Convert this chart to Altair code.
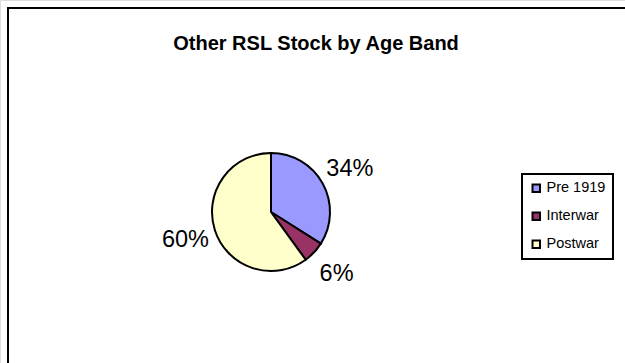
import altair as alt
import pandas as pd

# Age band shares of other RSL stock (percent)
bands = ["Pre 1919", "Interwar", "Postwar"]
shares = [34, 6, 60]
colors = ["#9999FF", "#993366", "#FFFFCC"]
title_text = ["Other RSL Stock by Age Band"]

df = pd.DataFrame({"band": bands, "share": shares, "idx": list(range(len(bands)))})

W, H = 625, 363
CX, CY = 271, 212

base = alt.Chart(df).encode(
    theta=alt.Theta("share:Q", stack=True),
    order=alt.Order("idx:Q"),
    x=alt.value(CX),
    y=alt.value(CY),
)

pie = base.mark_arc(radius=59, stroke="#000000", strokeWidth=2).encode(
    color=alt.Color(
        "band:N",
        scale=alt.Scale(domain=bands, range=colors),
        legend=alt.Legend(
            title=None,
            orient="none",
            legendX=522,
            legendY=174,
            symbolType="square",
            symbolSize=56,
            symbolStrokeColor="#000000",
            symbolStrokeWidth=2,
            labelFont="Liberation Sans",
            labelFontSize=14.5,
            labelColor="#000000",
            labelOffset=3,
            rowPadding=12,
            padding=7,
            strokeColor="#000000",
            fillColor="#FFFFFF",
        ),
    )
)

labels = base.transform_calculate(
    label="datum.share + '%'"
).mark_text(
    radius=90, font="Liberation Sans", fontSize=23.5, color="#000000"
).encode(text="label:N")

frame = alt.Chart(pd.DataFrame({"k": [0]})).mark_rect(
    fill=None, stroke="#000000", strokeWidth=2
).encode(
    x=alt.value(8), y=alt.value(8), x2=alt.value(W + 50), y2=alt.value(H + 50)
)

title = alt.Chart(pd.DataFrame({"t": title_text})).mark_text(
    font="Liberation Sans", fontSize=20, fontWeight="bold", color="#000000"
).encode(text="t:N", x=alt.value(316), y=alt.value(44))

chart = alt.layer(frame, title, pie, labels).properties(
    width=W, height=H, autosize=alt.AutoSizeParams(type="none"), padding=0
).configure_view(stroke=None).configure(
    background="#FFFFFF"
).configure_legend(strokeWidth=2)

chart.save("out.html", embed_options={"renderer": "svg", "actions": False})
